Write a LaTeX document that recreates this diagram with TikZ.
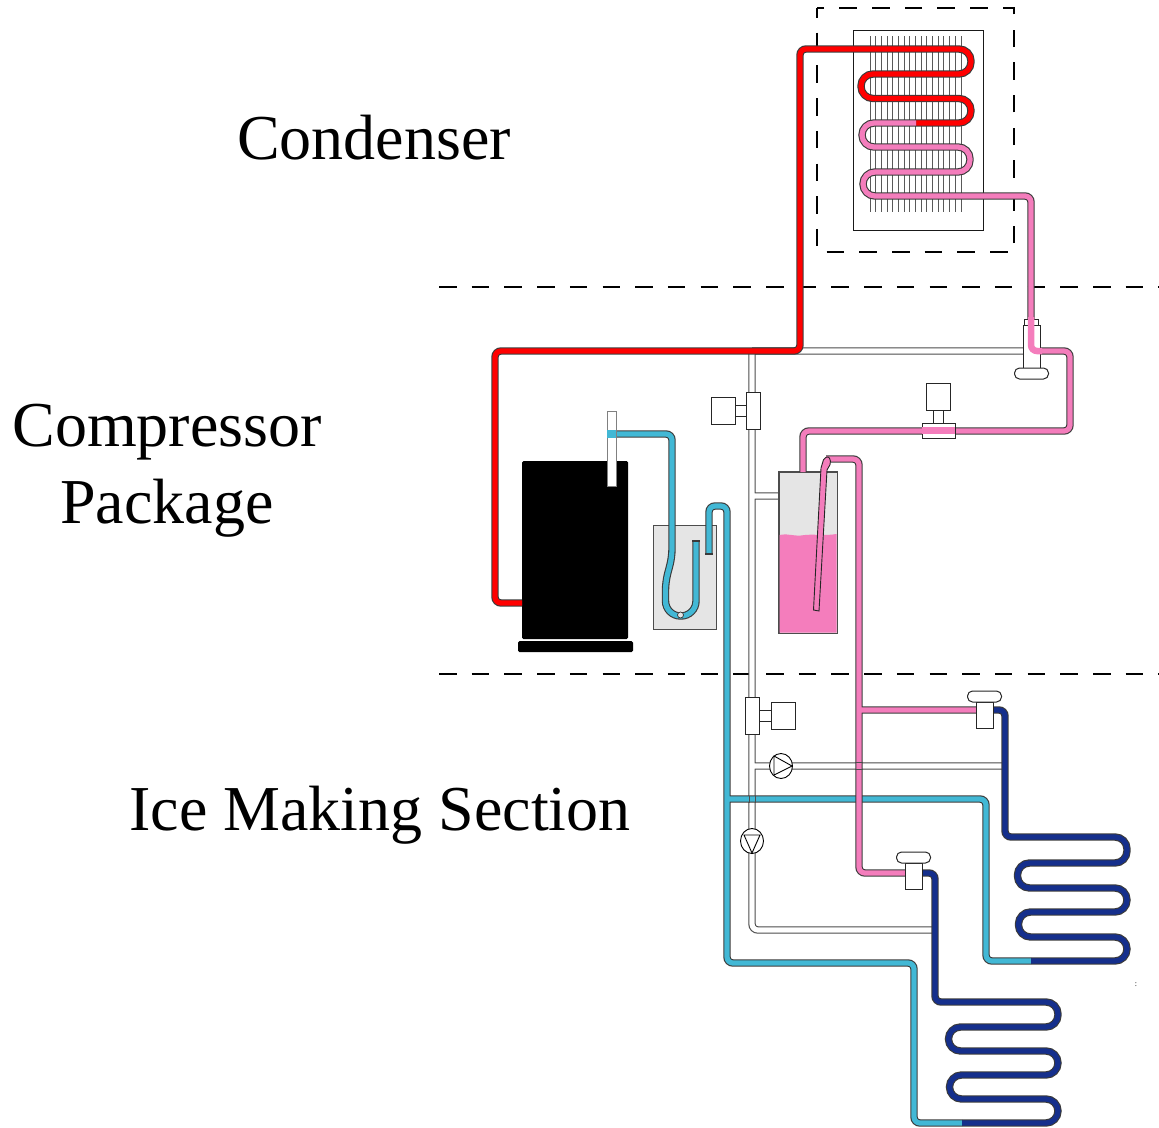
\documentclass[tikz,border=0pt]{standalone}
\usepackage{fontspec}
\usepackage{xcolor}
\setmainfont{Liberation Serif}
\usetikzlibrary{shapes.geometric, positioning}
\definecolor{HotRed}{HTML}{FF0000}
\definecolor{WarmPink}{HTML}{F47DBC}
\definecolor{CoolCyan}{HTML}{42B8D5}
\definecolor{ColdNavy}{HTML}{152F8C}
\definecolor{TankGrey}{HTML}{E5E5E5}
\definecolor{PipeEdge}{HTML}{3A3A3A}
\tikzset{
    % Section label
    sectionlabel/.style={
        align=center,
        inner sep=0pt,
        font=\fontsize{64}{77}\selectfont
    },
    % Dashed section border
    border/.style={
        dash pattern=on 17.5pt off 15.2pt,
        line width=1.1pt
    },
    % Pipe with outline
    pipe/.style={
        draw=PipeEdge,
        line width=1.1pt,
        double distance=5.2pt,
        rounded corners=6pt
    },
    % Plain part of a valve
    part/.style={
        rectangle,
        draw=black!85,
        fill=white,
        line width=1pt,
        inner sep=0pt,
        outer sep=0pt
    },
    % Valve body
    body/.style={part, minimum width=14pt, minimum height=37pt},
    % Solenoid head
    head/.style={part, minimum width=24pt, minimum height=27pt},
    % Expansion valve body
    xbody/.style={part, minimum width=17pt, minimum height=26pt},
    % Expansion valve knob
    knob/.style={part, rounded corners=5pt, minimum width=34pt, minimum height=11pt},
    % Pump casing
    pump/.style={
        ellipse,
        draw=black,
        fill=white,
        line width=0.9pt,
        inner sep=0pt,
        minimum width=23pt,
        minimum height=25pt
    },
    % Grey vessel
    vessel/.style={
        rectangle,
        draw=black!70,
        fill=TankGrey,
        line width=1pt,
        inner sep=0pt
    }
}
\begin{document}
\begin{tikzpicture}[x=1pt, y=-1pt]
    \useasboundingbox (0,0) rectangle (1159,1127);

    % Section labels
    \node (condlabel) [sectionlabel] at (374,138) {Condenser};
    \node (complabel) [sectionlabel] at (167,471) {Compressor\\Package};
    \node (icelabel) [sectionlabel] at (380,815) {Ice Making Section};
    \node (speck) [inner sep=0pt, font=\fontsize{8}{8}\selectfont] at (1136,985) {:};

    % Section borders
    \draw [border] (439,287) -- (1159,287);
    \draw [border] (439,674) -- (1159,674);
    \draw [border, dash phase=8pt] (817,8) rectangle (1014,252);

    % Condenser plate and fins
    \node (plate) [part, draw=black!90, minimum width=130pt, minimum height=200pt] at (918,130) {};
    \foreach \i in {0,...,16}
        \draw [black!65, line width=1pt] (870+\i*5.69,36) -- (870+\i*5.69,212);

    % Liquid and return lines
    \draw [pipe, draw=black!70, double=white]
        (752,351) -- (1025,351)
        (752,351) -- (752,930) -- (932,930)
        (752,496) -- (782,496)
        (752,766) -- (1003,766);

    % Receiver tank
    \node (tank) [vessel] at (808,552.5) [minimum width=58pt, minimum height=161pt] {};
    \fill [WarmPink] (779.5,535) .. controls (790,533) and (793,537) .. (805,535)
        .. controls (815,534) and (825,536) .. (836.5,534) -- (836.5,632.5) -- (779.5,632.5) -- cycle;
    \draw [black!70, line width=1pt] (tank.north west) rectangle (tank.south east);

    % Accumulator and compressor
    \node (accu) [vessel] at (684.5,577) [minimum width=63pt, minimum height=104pt] {};
    \node (comp) [rectangle, fill=black, rounded corners=1.5pt, inner sep=0pt, minimum width=106pt, minimum height=178pt] at (575,550) {};
    \node (compbase) [rectangle, fill=black, rounded corners=1.5pt, inner sep=0pt, minimum width=115pt, minimum height=11pt] at (575.5,646.5) {};

    % Suction line
    \draw [pipe, double=CoolCyan]
        (616,434) -- (672,434) [rounded corners=8pt] -- (672,557) -- (665.5,582)
        [rounded corners=15pt] -- (665.5,616) -- (696,616) [sharp corners] -- (696,541)
        (709,554) [rounded corners=6pt] -- (709,506) -- (727,506) -- (727,963) -- (914,963) -- (914,1123) -- (962,1123)
        (727,799) -- (986,799) -- (986,961) -- (1031,961);
    \draw [PipeEdge, line width=1.1pt] (692,541) -- (700,541) (705,554) -- (713,554);
    \node (trapdot) [circle, draw=black!80, fill=TankGrey, line width=0.7pt, inner sep=0pt, minimum size=6pt] at (680.5,615) {};

    % Suction stub on the compressor
    \node (stub) [part, draw=black!50, minimum width=9pt, minimum height=75pt] at (611.5,448.5) {};
    \draw [CoolCyan, line width=8pt] (607,434) -- (616,434);

    % Evaporator coils
    \draw [pipe, double=ColdNavy]
        (993,710) -- (1005,710) -- (1005,837) [rounded corners=12pt] -- (1127,837) -- (1127,863)
        -- (1017.5,863) -- (1017.5,888) -- (1127,888) -- (1127,912) -- (1018.5,912) -- (1018.5,937)
        -- (1127,937) -- (1127,961) [sharp corners] -- (1031,961);
    \draw [pipe, double=ColdNavy]
        (921,873) -- (935,873) -- (935,1002) [rounded corners=12pt] -- (1058,1002) -- (1058,1027)
        -- (948.5,1027) -- (948.5,1051) -- (1058,1051) -- (1058,1075) -- (949.5,1075) -- (949.5,1099)
        -- (1058,1099) -- (1058,1123) [sharp corners] -- (962,1123);

    % Hot gas line and condenser coil
    \draw [pipe, double=HotRed]
        (522,603) -- (495,603) -- (495,351) -- (800,351) -- (800,49) -- (900,49)
        [rounded corners=12pt] -- (971,49) -- (971,74) -- (861,74) -- (861,98.5) -- (971,98.5)
        -- (971,123) [sharp corners] -- (916,123);
    \draw [pipe, double=WarmPink]
        (916,123) [rounded corners=12pt] -- (862,123) -- (862,147) -- (970,147) -- (970,172)
        -- (863,172) -- (863,196) -- (950,196) [rounded corners=6pt] -- (1031,196) -- (1031,320)
        (1040,351) -- (1070,351) -- (1070,431) -- (803,431) -- (803,472)
        (826,459) -- (859,459) -- (859,873) -- (905,873)
        (859,710) -- (976,710);

    % Lines that show over the pipes
    \draw [black!70, line width=0.9pt]
        (855,762.5) -- (863,762.5) (855,769.5) -- (863,769.5)
        (749,795.5) -- (749,802.5) (755.5,795.5) -- (755.5,802.5);

    % Dip tube
    \draw [draw=black!85, fill=WarmPink, line width=0.9pt]
        (813.5,610) -- (821,468) [rounded corners=2pt] -- (824,458) -- (829,456.5) -- (831,463) [sharp corners] -- (827,470) -- (819,611) -- cycle;

    % Valve at the condenser outlet
    \node (mainvalve) [part, minimum width=17pt, minimum height=43pt] at (1031.5,346.5) {};
    \node (maincap) [part, minimum width=14pt, minimum height=6pt, above=0pt of mainvalve] {};
    \node (mainknob) [knob, below=0pt of mainvalve] {};
    \draw [WarmPink, line width=6.5pt, rounded corners=6pt] (1031,317) -- (1031,351) -- (1042,351);

    % Solenoid valve on the pink line
    \node (sight) [part, minimum width=33pt, minimum height=15pt] at (938.5,430.5) {};
    \node (sightneck) [part, minimum width=10pt, minimum height=13pt, above=0pt of sight] {};
    \node (sighthead) [head, above=0pt of sightneck] {};
    \draw [WarmPink, line width=6.5pt] (sight.west) -- (sight.east);

    % Solenoid valves on the white line
    \node (upbody) [body] at (753,410.5) {};
    \node (upneck) [part, minimum width=11pt, minimum height=11pt, left=0pt of upbody] {};
    \node (uphead) [head, left=0pt of upneck] {};
    \node (lowbody) [body] at (752.5,715.5) {};
    \node (lowneck) [part, minimum width=12pt, minimum height=11pt, right=0pt of lowbody] {};
    \node (lowhead) [head, right=0pt of lowneck] {};

    % Expansion valves
    \node (xvalveA) [xbody] at (984.5,715) {};
    \node (xknobA) [knob, above=0pt of xvalveA] {};
    \node (xvalveB) [xbody] at (913.5,876) {};
    \node (xknobB) [knob, above=0pt of xvalveB] {};

    % Pumps
    \node (pumpA) [pump] at (781,766) {};
    \draw [black, line width=0.9pt] (774,756) -- (792,766) -- (774,775) -- cycle;
    \node (pumpB) [pump] at (752,841) {};
    \draw [black, line width=0.9pt] (744,835) -- (760,835) -- (752,853) -- cycle;
\end{tikzpicture}
\end{document}
